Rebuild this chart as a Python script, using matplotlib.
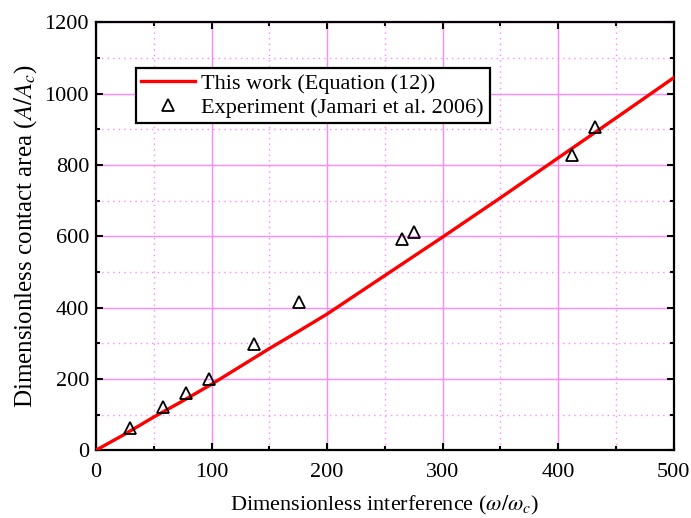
import matplotlib
matplotlib.use('Agg')
import matplotlib.pyplot as plt
from matplotlib.ticker import MultipleLocator

plt.rcParams['font.family'] = ['Liberation Serif', 'DejaVu Serif']
plt.rcParams['mathtext.fontset'] = 'stix'

# model curve, Equation (12)
model_x = [0, 25, 50, 75, 100, 125, 150, 175, 200, 250, 300, 350, 400, 450, 500]
model_y = [0, 45, 93, 138, 185, 235, 285, 333, 382, 490, 598, 708, 820, 932, 1045]

# measurements, Jamari et al. 2006
exp_x = [29, 58, 78, 98, 137, 176, 265, 275, 412, 432]
exp_y = [62, 120, 160, 200, 298, 415, 593, 612, 828, 908]

grid_color = '#ff88ff'

fig = plt.figure(figsize=(6.91, 5.18), dpi=100)
ax = fig.add_axes([0.139, 0.131, 0.836, 0.8256])

ax.plot(model_x, model_y, color='red', lw=2.4, label='This work (Equation (12))', zorder=3)
ax.plot(exp_x, exp_y, ls='none', marker='^', ms=8, mfc='none', mec='black', mew=1.3,
        label='Experiment (Jamari et al. 2006)', zorder=4)

ax.set_xlim(0, 500)
ax.set_ylim(0, 1200)
ax.xaxis.set_major_locator(MultipleLocator(100))
ax.xaxis.set_minor_locator(MultipleLocator(50))
ax.yaxis.set_major_locator(MultipleLocator(200))
ax.yaxis.set_minor_locator(MultipleLocator(100))

ax.grid(which='major', color=grid_color, lw=1.0, ls='-', zorder=0)
ax.grid(which='minor', color=grid_color, lw=1.0, ls=(0, (1, 3)), zorder=0)
ax.set_axisbelow(True)

ax.tick_params(which='both', direction='in', top=True, right=True, labelsize=16,
               width=1.5, color='black')
ax.tick_params(which='major', length=5)
ax.tick_params(axis='x', which='major', pad=9)
ax.tick_params(axis='y', which='major', pad=5)
ax.tick_params(which='minor', length=3)
for s in ax.spines.values():
    s.set_linewidth(1.6)

ax.set_xlabel(r'Dimensionless interference ($\omega/\omega_c$)', fontsize=16, labelpad=9)
ax.set_ylabel(r'Dimensionless contact area ($A/A_c$)', fontsize=18, labelpad=4)

leg = ax.legend(loc='upper left', bbox_to_anchor=(0.069, 0.894), borderaxespad=0,
                fontsize=16, frameon=True, fancybox=False, framealpha=1,
                edgecolor='black', handlelength=2.4, handletextpad=0.3,
                labelspacing=0.15, borderpad=0.25)
leg.get_frame().set_linewidth(1.6)

fig.savefig('out.png', dpi=100)
